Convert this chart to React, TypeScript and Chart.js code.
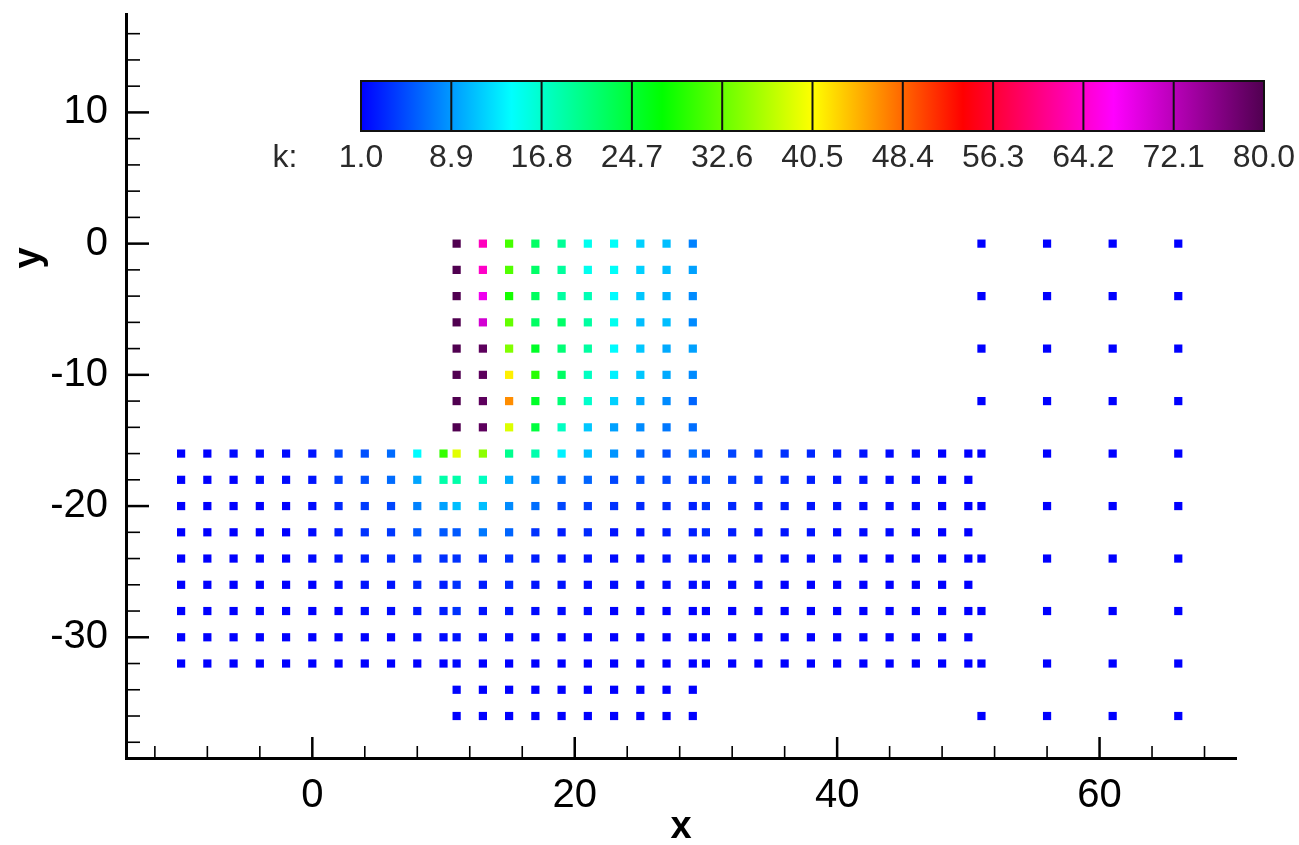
import React, { useEffect, useRef } from 'react';
import { Chart, registerables } from 'chart.js';

Chart.register(...registerables);

// ---------- axes ----------
const X_MIN = -14.2;
const X_MAX = 70.4;
const Y_MIN = -39.2;
const Y_MAX = 17.5;
const X_TICKS = [-12, -8, -4, 0, 4, 8, 12, 16, 20, 24, 28, 32, 36, 40, 44, 48, 52, 56, 60, 64, 68];
const X_LABELS = [0, 20, 40, 60];
const Y_TICKS = [-38, -36, -34, -32, -30, -28, -26, -24, -22, -20, -18, -16, -14, -12, -10, -8, -6, -4, -2, 0, 2, 4, 6, 8, 10, 12, 14, 16];
const Y_LABELS = [-30, -20, -10, 0, 10];

// ---------- colour legend ----------
const K_MIN = 1.0;
const K_MAX = 80.0;
const LEVEL_LABELS = ['1.0', '8.9', '16.8', '24.7', '32.6', '40.5', '48.4', '56.3', '64.2', '72.1', '80.0'];

// ---------- lower horizontal block (rows y = -16 ... -32) ----------
const LOWER_X = [-10, -8, -6, -4, -2, 0, 2, 4, 6, 8, 10, 11, 13, 15, 17, 19, 21, 23, 25, 27, 29, 30, 32, 34, 36, 38, 40, 42, 44, 46, 48, 50];
const LOWER_Y = [-16, -18, -20, -22, -24, -26, -28, -30, -32];
const K_LOWER = [
  [1.0, 1.0, 1.5, 1.5, 1.5, 2.0, 4.6, 5.1, 6.5, 14.0, 30.0, 39.0, 34.6, 20.0, 18.4, 13.5, 10.8, 8.7, 6.5, 5.0, 6.7, 5.3, 4.5, 4.0, 3.5, 3.0, 2.5, 2.0, 1.5, 1.5, 1.0, 1.0],
  [1.0, 1.0, 1.0, 1.5, 1.5, 2.0, 4.1, 5.1, 6.5, 9.5, 18.6, 18.6, 17.4, 9.8, 7.7, 6.7, 6.2, 4.6, 5.1, 4.6, 3.6, 5.1, 4.0, 3.5, 3.0, 2.5, 2.0, 2.0, 1.5, 1.5, 1.0, 1.0],
  [1.0, 1.0, 1.0, 1.0, 1.0, 1.5, 3.1, 4.1, 4.6, 7.7, 9.3, 10.8, 10.8, 8.2, 6.7, 4.6, 4.1, 3.6, 3.1, 3.1, 2.6, 3.6, 3.0, 2.5, 2.5, 2.0, 2.0, 1.5, 1.5, 1.5, 1.0, 1.0],
  [1.0, 1.0, 1.0, 1.0, 1.0, 1.5, 2.5, 3.6, 3.9, 5.6, 5.6, 5.6, 7.2, 6.2, 3.6, 2.5, 3.1, 2.0, 2.0, 2.5, 2.5, 3.1, 2.5, 2.0, 2.0, 2.0, 1.5, 1.5, 1.5, 1.0, 1.0, 1.0],
  [1.0, 1.0, 1.0, 1.0, 1.0, 1.5, 2.0, 2.5, 3.0, 3.5, 3.5, 3.6, 3.0, 3.5, 2.5, 2.0, 2.0, 1.5, 1.5, 2.0, 2.0, 2.0, 2.0, 1.5, 1.5, 1.5, 1.5, 1.0, 1.0, 1.0, 1.0, 1.0],
  [1.0, 1.0, 1.0, 1.0, 1.0, 1.0, 1.5, 2.0, 2.0, 3.0, 2.5, 3.6, 2.5, 3.0, 2.0, 2.0, 1.5, 1.5, 1.5, 1.5, 1.5, 1.5, 1.5, 1.5, 1.0, 1.0, 1.0, 1.0, 1.0, 1.0, 1.0, 1.0],
  [1.0, 1.0, 1.0, 1.0, 1.0, 1.0, 1.0, 1.5, 1.5, 2.2, 2.5, 3.6, 2.0, 2.2, 1.5, 1.5, 1.5, 1.0, 1.0, 1.0, 1.0, 1.0, 1.0, 1.0, 1.0, 1.0, 1.0, 1.0, 1.0, 1.0, 1.0, 1.0],
  [1.0, 1.0, 1.0, 1.0, 1.0, 1.0, 1.0, 1.0, 1.0, 1.5, 1.5, 2.0, 1.5, 1.5, 1.0, 1.0, 1.0, 1.0, 1.0, 1.0, 1.0, 1.0, 1.0, 1.0, 1.0, 1.0, 1.0, 1.0, 1.0, 1.0, 1.0, 1.0],
  [1.0, 1.0, 1.0, 1.0, 1.0, 1.0, 1.0, 1.0, 1.0, 1.0, 1.0, 1.5, 1.0, 1.0, 1.0, 1.0, 1.0, 1.0, 1.0, 1.0, 1.0, 1.0, 1.0, 1.0, 1.0, 1.0, 1.0, 1.0, 1.0, 1.0, 1.0, 1.0],
];

// ---------- upper vertical block (rows y = 0 ... -14) ----------
const UPPER_X = [11, 13, 15, 17, 19, 21, 23, 25, 27, 29];
const UPPER_Y = [0, -2, -4, -6, -8, -10, -12, -14];
const K_UPPER = [
  [80.0, 63.4, 30.9, 22.2, 19.6, 15.0, 14.5, 11.8, 10.8, 7.7],
  [80.0, 64.0, 31.5, 22.0, 19.3, 15.0, 14.4, 11.8, 10.8, 9.3],
  [80.0, 68.0, 28.4, 22.5, 19.0, 18.0, 14.0, 11.3, 10.3, 8.2],
  [80.0, 70.2, 32.5, 22.2, 22.0, 19.0, 15.0, 10.8, 10.8, 8.2],
  [80.0, 79.0, 34.0, 25.3, 21.3, 19.0, 14.0, 11.3, 9.8, 9.3],
  [80.0, 79.0, 41.3, 29.4, 22.2, 17.3, 13.5, 11.3, 9.8, 8.2],
  [80.0, 79.0, 46.4, 25.3, 21.3, 16.8, 11.8, 9.8, 8.2, 6.2],
  [80.0, 79.0, 38.7, 24.2, 17.3, 11.3, 9.3, 8.2, 7.2, 6.7],
];

// ---------- bottom extension of vertical block (rows y = -34, -36) ----------
const EXT_X = [11, 13, 15, 17, 19, 21, 23, 25, 27, 29];
const EXT_Y = [-34, -36];
const K_EXT = [
  [1.2, 1.0, 1.0, 1.0, 1.0, 1.0, 1.0, 1.0, 1.0, 1.0],
  [1.0, 1.0, 1.0, 1.0, 1.0, 1.0, 1.0, 1.0, 1.0, 1.0],
];

// ---------- right sparse columns (rows y = 0 ... -36 step 4) ----------
const RIGHT_X = [51, 56, 61, 66];
const RIGHT_Y = [0, -4, -8, -12, -16, -20, -24, -28, -32, -36];
const K_RIGHT = [
  [1.0, 1.0, 1.0, 1.0],
  [1.0, 1.0, 1.0, 1.0],
  [1.0, 1.0, 1.0, 1.0],
  [1.0, 1.0, 1.0, 1.0],
  [1.0, 1.0, 1.0, 1.0],
  [1.0, 1.0, 1.0, 1.0],
  [1.0, 1.0, 1.0, 1.0],
  [1.0, 1.0, 1.0, 1.0],
  [1.0, 1.0, 1.0, 1.0],
  [1.0, 1.0, 1.0, 1.0],
];

// ---------- colour map (style) ----------
const CMAP: [number, [number, number, number]][] = [
  [0, [0, 0, 255]],
  [1 / 6, [0, 255, 255]],
  [1 / 3, [0, 255, 0]],
  [1 / 2, [255, 255, 0]],
  [2 / 3, [255, 0, 0]],
  [5 / 6, [255, 0, 255]],
  [1, [80, 0, 80]],
];

function rgbStr(c: number[]) {
  return `rgb(${Math.round(c[0])},${Math.round(c[1])},${Math.round(c[2])})`;
}

function colorFor(k: number) {
  let t = (k - K_MIN) / (K_MAX - K_MIN);
  t = Math.max(0, Math.min(1, t));
  for (let i = 0; i < CMAP.length - 1; i++) {
    const [t0, c0] = CMAP[i];
    const [t1, c1] = CMAP[i + 1];
    if (t <= t1) {
      const f = (t - t0) / (t1 - t0);
      return rgbStr([0, 1, 2].map((j) => c0[j] + (c1[j] - c0[j]) * f));
    }
  }
  return rgbStr(CMAP[CMAP.length - 1][1]);
}

type Pt = { x: number; y: number; k: number };

function buildPoints(): Pt[] {
  const pts: Pt[] = [];
  const addBlock = (xs: number[], ys: number[], ks: number[][]) => {
    ys.forEach((y, r) => xs.forEach((x, c) => pts.push({ x, y, k: ks[r][c] })));
  };
  addBlock(UPPER_X, UPPER_Y, K_UPPER);
  addBlock(LOWER_X, LOWER_Y, K_LOWER);
  addBlock(EXT_X, EXT_Y, K_EXT);
  addBlock(RIGHT_X, RIGHT_Y, K_RIGHT);
  return pts;
}

const FONT_FAMILY = '"Liberation Sans", Arial, Helvetica, sans-serif';

const decorPlugin = {
  id: 'decor',
  afterDraw(chart: any) {
    const { ctx, chartArea, scales } = chart;
    const xs = scales.x;
    const ys = scales.y;
    ctx.save();
    ctx.strokeStyle = '#000';
    // inward ticks on x axis
    X_TICKS.forEach((v) => {
      const major = X_LABELS.includes(v);
      const px = xs.getPixelForValue(v);
      ctx.lineWidth = major ? 2.5 : 1.6;
      ctx.beginPath();
      ctx.moveTo(px, chartArea.bottom);
      ctx.lineTo(px, chartArea.bottom - (major ? 21 : 12));
      ctx.stroke();
    });
    // inward ticks on y axis
    Y_TICKS.forEach((v) => {
      const major = Y_LABELS.includes(v);
      const py = ys.getPixelForValue(v);
      ctx.lineWidth = major ? 2.5 : 1.6;
      ctx.beginPath();
      ctx.moveTo(chartArea.left, py);
      ctx.lineTo(chartArea.left + (major ? 23 : 14), py);
      ctx.stroke();
    });

    // axis titles
    ctx.fillStyle = '#000';
    ctx.font = `bold 38px ${FONT_FAMILY}`;
    ctx.textAlign = 'center';
    ctx.textBaseline = 'middle';
    ctx.fillText('x', (chartArea.left + chartArea.right) / 2, 828);
    ctx.save();
    ctx.translate(30, 258);
    ctx.rotate(-Math.PI / 2);
    ctx.fillText('y', 0, 0);
    ctx.restore();

    // colour bar legend
    const L = 361;
    const R = 1264;
    const T = 81;
    const B = 131;
    const grad = ctx.createLinearGradient(L, 0, R, 0);
    CMAP.forEach(([t, c]) => grad.addColorStop(t, rgbStr(c)));
    ctx.fillStyle = grad;
    ctx.fillRect(L, T, R - L, B - T);
    ctx.lineWidth = 2;
    ctx.strokeStyle = '#111';
    const n = LEVEL_LABELS.length - 1;
    for (let i = 1; i < n; i++) {
      const px = L + ((R - L) * i) / n;
      ctx.beginPath();
      ctx.moveTo(px, T);
      ctx.lineTo(px, B);
      ctx.stroke();
    }
    ctx.strokeRect(L, T, R - L, B - T);
    ctx.fillStyle = '#2a2a2a';
    ctx.font = `32px ${FONT_FAMILY}`;
    ctx.textAlign = 'center';
    ctx.textBaseline = 'middle';
    LEVEL_LABELS.forEach((lab, i) => {
      const px = L + ((R - L) * i) / n;
      ctx.fillText(lab, px, 158);
    });
    ctx.fillText('k:', 285, 158);
    ctx.restore();
  },
};

export default function App() {
  const ref = useRef<HTMLCanvasElement | null>(null);
  useEffect(() => {
    document.body.style.margin = '0';
    const canvas = ref.current;
    if (!canvas) return;
    const pts = buildPoints();
    const chart = new Chart(canvas, {
      type: 'scatter',
      data: {
        datasets: [
          {
            data: pts.map((p) => ({ x: p.x, y: p.y })),
            pointStyle: 'rect',
            pointRadius: 5.8,
            pointHoverRadius: 5.8,
            pointBorderWidth: 0,
            pointBackgroundColor: pts.map((p) => colorFor(p.k)),
            showLine: false,
          } as any,
        ],
      },
      options: {
        responsive: false,
        animation: false,
        events: [],
        layout: { padding: { top: 14, right: 63, left: 0, bottom: 0 } },
        plugins: {
          legend: { display: false },
          tooltip: { enabled: false },
        },
        scales: {
          x: {
            type: 'linear',
            position: 'bottom',
            min: X_MIN,
            max: X_MAX,
            afterFit: (s: any) => {
              s.height = 87;
              s.paddingLeft = 0;
              s.paddingRight = 0;
            },
            afterBuildTicks: (s: any) => {
              s.ticks = X_TICKS.map((v) => ({ value: v }));
            },
            ticks: {
              autoSkip: false,
              maxRotation: 0,
              padding: 14,
              color: '#000',
              font: { family: FONT_FAMILY, size: 40 },
              callback: (v: any) => (X_LABELS.includes(Number(v)) ? String(v) : ''),
            },
            grid: { display: false, drawTicks: false },
            border: { display: true, width: 3, color: '#000' },
          },
          y: {
            type: 'linear',
            position: 'left',
            min: Y_MIN,
            max: Y_MAX,
            afterFit: (s: any) => {
              s.width = 126;
              s.paddingTop = 0;
              s.paddingBottom = 0;
            },
            afterBuildTicks: (s: any) => {
              s.ticks = Y_TICKS.map((v) => ({ value: v }));
            },
            ticks: {
              autoSkip: false,
              padding: 18,
              color: '#000',
              font: { family: FONT_FAMILY, size: 40 },
              callback: (v: any) => (Y_LABELS.includes(Number(v)) ? String(v) : ''),
            },
            grid: { display: false, drawTicks: false },
            border: { display: true, width: 3, color: '#000' },
          },
        },
      },
      plugins: [decorPlugin],
    });
    return () => chart.destroy();
  }, []);
  return (
    <div style={{ width: 1299, height: 845, background: '#fff' }}>
      <canvas ref={ref} width={1299} height={845} />
    </div>
  );
}
